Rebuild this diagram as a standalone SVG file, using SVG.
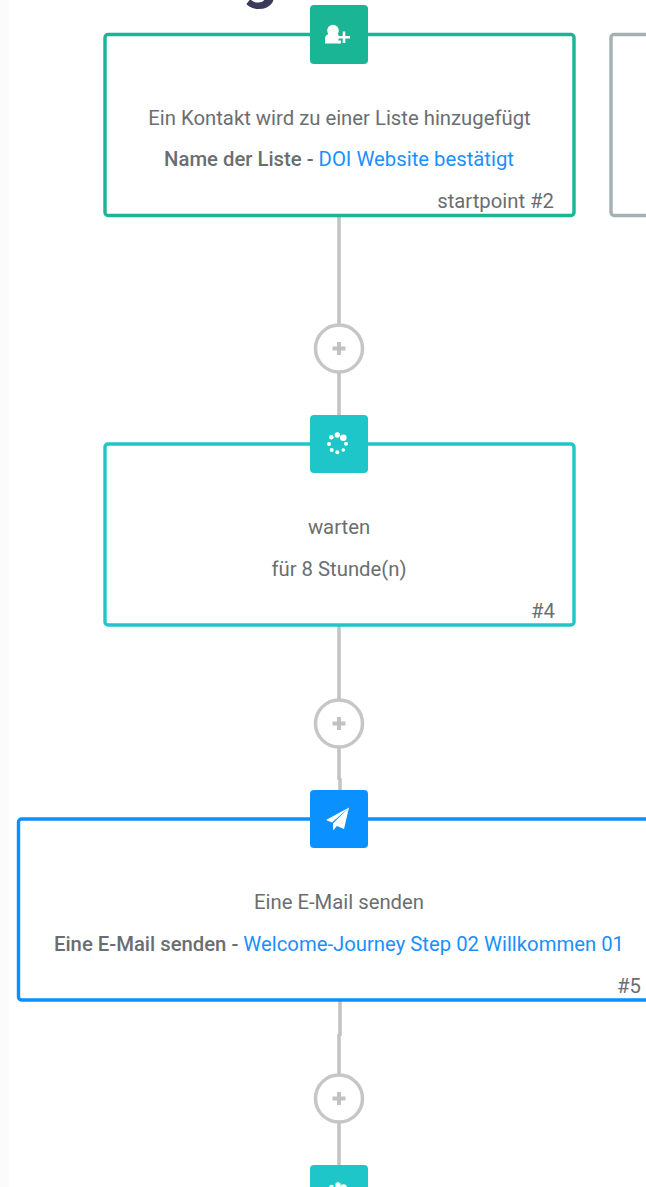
<svg xmlns="http://www.w3.org/2000/svg" width="646" height="1187" viewBox="0 0 646 1187">
<style>
text{font-family:Roboto,"Liberation Sans",sans-serif;font-size:20.3px;fill:#6b6e70;text-anchor:middle}
.b{font-weight:500}
.l{fill:#1a90ff}
.r{text-anchor:end}
.box{fill:#fff;stroke-width:3.4}
.wire{stroke:#c2c2c2;stroke-width:3.5;fill:none}
.add{fill:#fff;stroke:#c6c6c6;stroke-width:3.5}
.plus{stroke:#c2c2c2;stroke-width:4;fill:none}
.w{fill:#fff}
</style>
<rect width="646" height="1187" fill="#fff"/>
<rect width="9" height="1187" fill="#fbfbfb"/>
<text x="260" y="-3" style="font-size:62px;font-weight:700;fill:#3a3a5c">g</text>
<g id="connectors">
<path class="wire" d="M339 215V415M339 625V780M340 778V792M340 1000V1036M339 1034V1166"/>
</g>
<g id="node-2">
<rect class="box" x="105" y="34.500" width="469" height="181" rx="3" stroke="#1ab595"/>
<rect x="310" y="5" width="58" height="59" rx="4" fill="#1ab595"/>
<circle class="w" cx="333" cy="30.500" r="5.800"/>
<path class="w" d="M325 43.500v-5c0-3 3-5 6-5h6l4 3v7h-16z"/>
<path d="M344 32v11M338.500 37.500h11" stroke="#1ab595" stroke-width="6"/>
<path d="M344 31.500v11.500M338 37.300h12" stroke="#fff" stroke-width="2.600"/>
<text x="339.500" y="125">Ein Kontakt wird zu einer Liste hinzugefügt</text>
<text x="339" y="166"><tspan class="b">Name der Liste - </tspan><tspan class="l">DOI Website bestätigt</tspan></text>
<text class="r" x="554" y="208">startpoint #2</text>
</g>
<g id="node-side">
<path class="box" d="M648 34.500H614a3 3 0 0 0-3 3V212.500a3 3 0 0 0 3 3H648" stroke="#a4b0b1"/>
</g>
<g id="add-1">
<circle class="add" cx="339" cy="348.500" r="23.500"/>
<path class="plus" d="M339 342v13M332.500 348.500h13"/>
</g>
<g id="node-4">
<rect class="box" x="105" y="444" width="469" height="181" rx="3" stroke="#1fc6c9"/>
<rect x="310" y="415" width="58" height="58" rx="4" fill="#1fc6c9"/>
<g class="w"><circle cx="337.300" cy="435" r="2.700"/><circle cx="343.300" cy="437.700" r="3.300"/><circle cx="331.300" cy="437.300" r="2.300"/><circle cx="329" cy="444" r="2"/><circle cx="346" cy="443.700" r="2"/><circle cx="331.700" cy="450" r="2"/><circle cx="337.300" cy="452.300" r="2"/><circle cx="343.300" cy="450" r="1.800"/></g>
<text x="339" y="534">warten</text>
<text x="339" y="576">für 8 Stunde(n)</text>
<text class="r" x="555" y="618">#4</text>
</g>
<g id="add-2">
<circle class="add" cx="339" cy="723.500" r="23.500"/>
<path class="plus" d="M339 717v13M332.500 723.500h13"/>
</g>
<g id="node-5">
<path class="box" d="M648 819H21.500a3 3 0 0 0-3 3V997a3 3 0 0 0 3 3H648" stroke="#0a90ff"/>
<rect x="310" y="790" width="58" height="58" rx="4" fill="#0a90ff"/>
<path class="w" d="M349 807.500L326 820l6 2.500zM349 807.500L333 823.500v7l4-4.500 7 3z"/>
<text x="339" y="909">Eine E-Mail senden</text>
<text x="339" y="951"><tspan class="b">Eine E-Mail senden - </tspan><tspan class="l">Welcome-Journey Step 02 Willkommen 01</tspan></text>
<text class="r" x="641" y="993">#5</text>
</g>
<g id="add-3">
<circle class="add" cx="339" cy="1098.500" r="23.500"/>
<path class="plus" d="M339 1092v13M332.500 1098.500h13"/>
</g>
<g id="node-next">
<rect x="310" y="1165" width="58" height="40" rx="4" fill="#1fc6c9"/>
<g class="w"><circle cx="338" cy="1185" r="2.700"/><circle cx="343.500" cy="1187.500" r="3.300"/><circle cx="331.500" cy="1187" r="2.300"/></g>
</g>
</svg>
